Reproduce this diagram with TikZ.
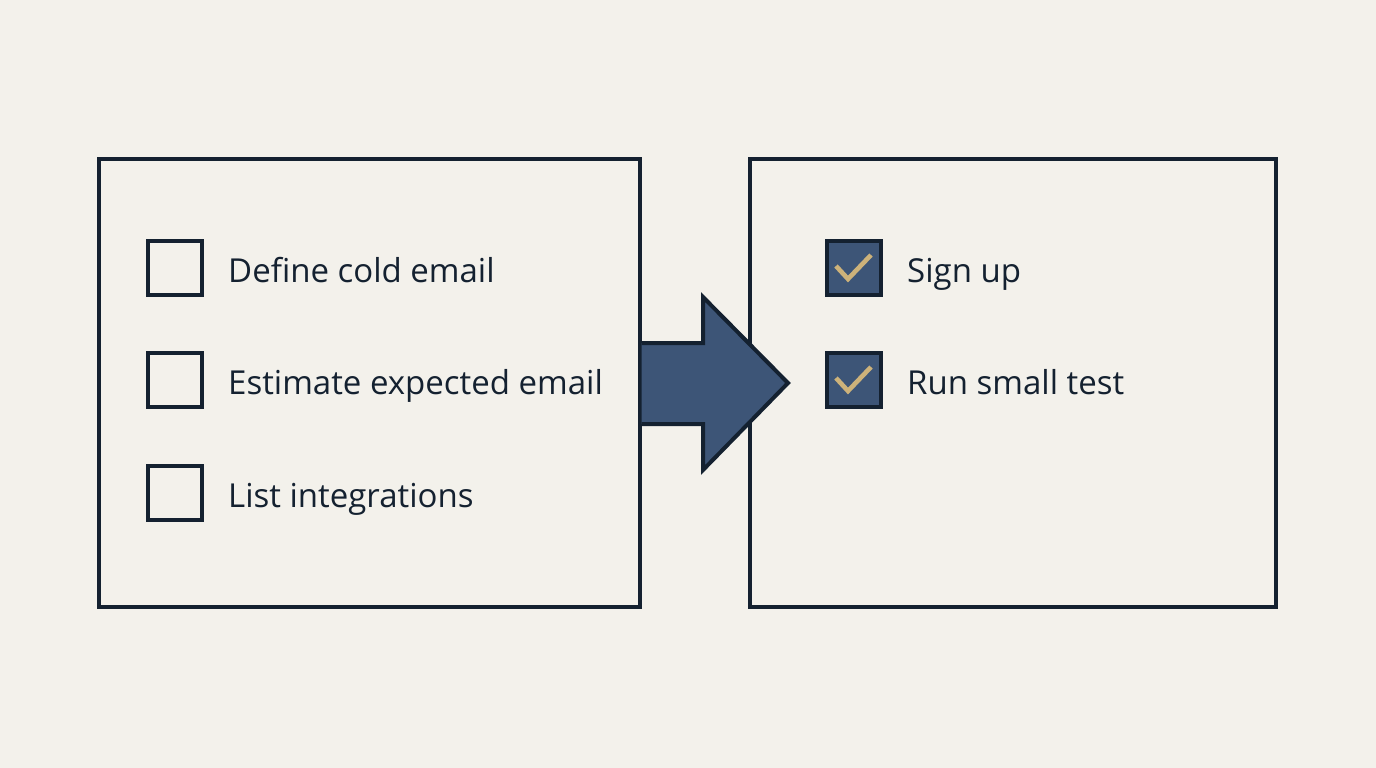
\documentclass[tikz,border=0pt]{standalone}
\usepackage{fontspec}
\setmainfont{Open Sans}
\definecolor{bg}{HTML}{F3F1EB}
\definecolor{ink}{HTML}{142130}
\definecolor{navy}{HTML}{3D5577}
\definecolor{gold}{HTML}{CDB27A}
\begin{document}
\begin{tikzpicture}[x=1pt,y=-1pt,
  panel/.style={draw=ink,line width=3.2pt},
  cbox/.style={draw=ink,line width=4.2pt,minimum size=54pt,inner sep=0pt},
  cdone/.style={cbox,fill=navy},
  lbl/.style={anchor=base west,text=ink,font=\fontsize{33}{38}\selectfont,inner sep=0pt},
  tick/.style={draw=gold,line width=4.6pt}]
\fill[bg] (0,0) rectangle (1376,768);
\useasboundingbox (0,0) rectangle (1376,768);
\node[panel,minimum width=541pt,minimum height=448pt,inner sep=0pt] (L) at (369.5,383) {};
\node[panel,minimum width=526pt,minimum height=448pt,inner sep=0pt] (R) at (1013,383) {};
\node[cbox] (c1) at (175,268) {};
\node[cbox] (c2) at (175,380) {};
\node[cbox] (c3) at (175,493) {};
\node[lbl] (t1) at (228,282) {Define cold email};
\node[lbl] (t2) at (228,394) {Estimate expected email};
\node[lbl] (t3) at (228,507) {List integrations};
\node[cdone] (d1) at (854,268) {};
\node[cdone] (d2) at (854,380) {};
\draw[tick] ([shift={(-18,-2)}]d1.center) -- ([shift={(-6,11)}]d1.center) -- ([shift={(17,-13)}]d1.center);
\draw[tick] ([shift={(-18,-2)}]d2.center) -- ([shift={(-6,11)}]d2.center) -- ([shift={(17,-13)}]d2.center);
\node[lbl] (u1) at (907,282) {Sign up};
\node[lbl] (u2) at (907,394) {Run small test};
\coordinate (a0) at (L.east |- 0,343);
\coordinate (a1) at (L.east |- 0,424);
\fill[navy] (a0) -- (703,343) -- (703,297) -- (788,383) -- (703,470) -- (703,424) -- (a1) -- cycle;
\draw[ink,line width=4pt,line join=miter] (a0) -- (703,343) -- (703,297) -- (788,383) -- (703,470) -- (703,424) -- (a1);
\end{tikzpicture}
\end{document}
